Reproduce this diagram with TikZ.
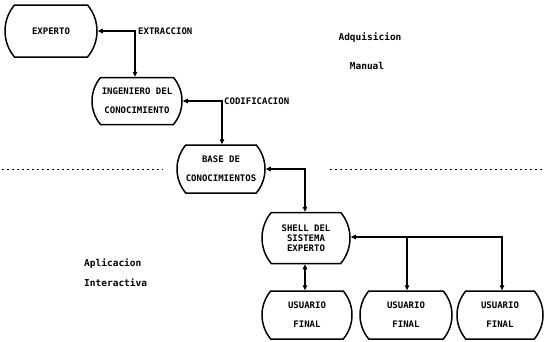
\documentclass[tikz,border=0pt]{standalone}
\usepackage{fontspec}
\setmonofont{DejaVu Sans Mono}
\usetikzlibrary{shapes.misc,arrows.meta}
\begin{document}
\begin{tikzpicture}[x=1pt,y=-1pt,
  box/.style={rounded rectangle, rounded rectangle arc length=80, draw, line width=1.5pt,
    minimum width=90pt, minimum height=48pt, inner sep=0pt, align=center,
    font=\ttfamily\bfseries\fontsize{9}{19}\selectfont},
  lbl/.style={font=\ttfamily\bfseries\fontsize{9}{10}\selectfont, inner sep=0pt},
  tip/.tip={Triangle[length=5pt,width=4.5pt]},
  conn/.style={line width=1.1pt},
  dotline/.style={line width=1pt, dash pattern=on 2pt off 3pt}]
\useasboundingbox (0,0) rectangle (545,341);
% boxes
\node[box, minimum width=92pt, minimum height=52pt] (exp) at (51,31) {EXPERTO};
\node[box, minimum height=47pt] (ing) at (137,101) {INGENIERO DEL\\CONOCIMIENTO};
\node[box, minimum width=88pt] (base) at (221,169) {BASE DE\\CONOCIMIENTOS};
\node[box, minimum width=88pt, minimum height=51pt, font=\ttfamily\bfseries\fontsize{9}{10}\selectfont] (shell) at (306,238) {SHELL DEL\\SISTEMA\\EXPERTO};
\node[box] (u1) at (307,315) {USUARIO\\FINAL};
\node[box, minimum width=92pt] (u2) at (406,315) {USUARIO\\FINAL};
\node[box, minimum width=86pt] (u3) at (500,315) {USUARIO\\FINAL};
% corner coordinates
\coordinate (c1) at (135,31);
\coordinate (c2) at (222,101);
\coordinate (c3) at (305,169);
\coordinate (c4) at (502,237);
\coordinate (c5) at (407,237);
% connectors
\draw[conn, tip-tip] (exp.east |- c1) -- (c1) -- (c1 |- ing.north);
\draw[conn, tip-tip] (ing.east |- c2) -- (c2) -- (c2 |- base.north);
\draw[conn, tip-tip] (base.east |- c3) -- (c3) -- (c3 |- shell.north);
\draw[conn, tip-tip] (shell.east |- c4) -- (c4) -- (c4 |- u3.north);
\draw[conn, -tip] (c5) -- (c5 |- u2.north);
\draw[conn, tip-tip] (shell.south -| c3) -- (c3 |- u1.north);
% connector labels
\node[lbl, anchor=west] (lx) at ([xshift=3pt]c1) {EXTRACCION};
\node[lbl, anchor=west] (lc) at ([xshift=2pt]c2) {CODIFICACION};
% dotted separators
\draw[dotline] (2,169) -- (163,169);
\draw[dotline] (330,169) -- (545,169);
% section labels
\node[lbl, font=\ttfamily\bfseries\fontsize{9.5}{10}\selectfont] (t1) at (370,38) {Adquisicion};
\node[lbl, font=\ttfamily\bfseries\fontsize{9.5}{10}\selectfont] (t2) at (367,66) {Manual};
\node[lbl, anchor=west, font=\ttfamily\bfseries\fontsize{9.5}{10}\selectfont] (t3) at (84,264) {Aplicacion};
\node[lbl, anchor=west, font=\ttfamily\bfseries\fontsize{9.5}{10}\selectfont] (t4) at (84,283) {Interactiva};
\end{tikzpicture}
\end{document}
